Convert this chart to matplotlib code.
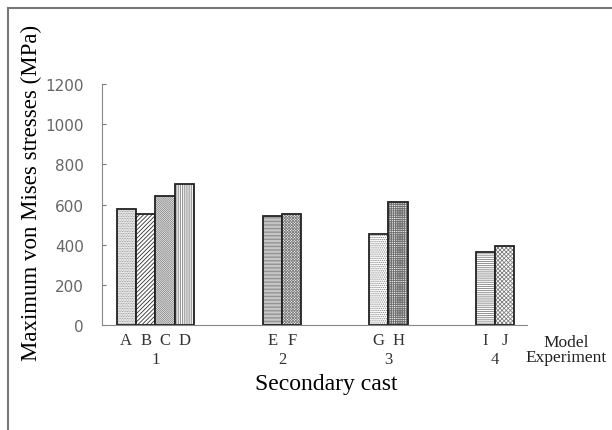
import numpy as np
import matplotlib.pyplot as plt
from matplotlib.lines import Line2D

# values (MPa)
models = ['A', 'B', 'C', 'D', 'E', 'F', 'G', 'H', 'I', 'J']
stress = [576, 551, 642, 704, 541, 553, 453, 614, 365, 393]
groups = ['1', '2', '3', '4']
group_size = [4, 2, 2, 2]
hatches = ['.' * 10, '/' * 8, '\\' * 16, '|' * 9, '-' * 12, 'x' * 12,
           '.' * 8, '+' * 9, '-' * 8, 'x' * 8]
hatch_cols = ['#808080', '#303030', '#808080', '#808080', '#808080', '#808080',
              '#808080', '#707070', '#808080', '#808080']

group_centers = [2.75, 9.3, 14.8, 20.3]
w = 1.0

xs = []
for c, n in zip(group_centers, group_size):
    start = c - (n - 1) * w / 2
    for k in range(n):
        xs.append(start + k * w)

plt.rcParams['hatch.linewidth'] = 0.6
serif = ['Liberation Serif', 'DejaVu Serif']

fig = plt.figure(figsize=(6.12, 4.31), dpi=100)
ax = fig.add_axes([102 / 612, 1 - 326 / 431, 425 / 612, 241 / 431])

for x, v, h, hc in zip(xs, stress, hatches, hatch_cols):
    ax.bar(x, v, width=w, color='white', edgecolor=hc, hatch=h, linewidth=0)
    ax.bar(x, v, width=w, color='none', edgecolor='#222222', linewidth=1.3)

ax.set_xlim(0, 21.96)
ax.set_ylim(0, 1200)
ax.set_yticks(np.arange(0, 1201, 200))
ax.tick_params(axis='y', direction='in', length=3, pad=13, colors='#777777',
               labelcolor='#666666', labelsize=11)
ax.set_xticks([])
for s in ['top', 'right']:
    ax.spines[s].set_visible(False)
ax.spines['left'].set_color('#888888')
ax.spines['bottom'].set_color('#888888')

tr = ax.get_xaxis_transform()
for x, m in zip(xs, models):
    ax.text(x, -0.062, m, transform=tr, ha='center', va='center',
            family=serif, fontsize=12, color='#333333')
for c, g in zip(group_centers, groups):
    ax.text(c, -0.141, g, transform=tr, ha='center', va='center',
            family=serif, fontsize=12, color='#333333')

ax.text(1.092, -0.07, 'Model', transform=ax.transAxes, ha='center', va='center',
        family=serif, fontsize=12.5, color='#222222')
ax.text(1.092, -0.133, 'Experiment', transform=ax.transAxes, ha='center', va='center',
        family=serif, fontsize=12.5, color='#222222')

fig.text(326 / 612, 1 - 385 / 431, 'Secondary cast', ha='center', va='center',
         family=serif, fontsize=17)
fig.text(31 / 612, 1 - 193 / 431, 'Maximum von Mises stresses (MPa)', rotation=90,
         ha='center', va='center', family=serif, fontsize=16.5)

# outer frame (top and left edges visible)
fig.add_artist(Line2D([8 / 612, 1], [1 - 9 / 431, 1 - 9 / 431], color='#777777', lw=1.5))
fig.add_artist(Line2D([8 / 612, 8 / 612], [0, 1 - 9 / 431], color='#777777', lw=1.5))

fig.savefig('out.png', dpi=100)
